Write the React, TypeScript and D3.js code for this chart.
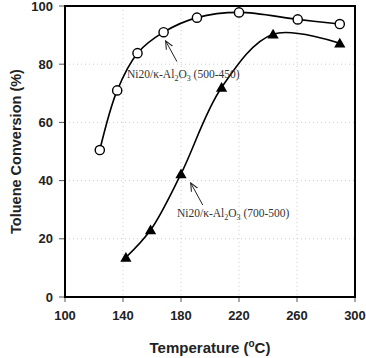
import React from 'react'
import * as d3 from 'd3'

const WIDTH = 366
const HEIGHT = 358
const margin = { top: 6, right: 11, bottom: 61, left: 65 }

// data
const tempCircle = [124, 136, 150, 168, 191, 220, 260.5, 289.5]
const convCircle = [50.5, 71, 83.8, 91, 96, 97.8, 95.4, 93.8]
const tempTriangle = [142, 159, 180, 208, 243.5, 289.5]
const convTriangle = [13.6, 23, 42.3, 72, 90.3, 87.2]

const xTicks = [100, 140, 180, 220, 260, 300]
const yTicks = [0, 20, 40, 60, 80, 100]

const App = () => {
    const chartWidth = WIDTH - margin.left - margin.right
    const chartHeight = HEIGHT - margin.top - margin.bottom

    const xScale = d3.scaleLinear().domain([100, 300]).range([0, chartWidth])
    const yScale = d3.scaleLinear().domain([0, 100]).range([chartHeight, 0])

    const line = d3
        .line<[number, number]>()
        .x(d => xScale(d[0]))
        .y(d => yScale(d[1]))
        .curve(d3.curveCatmullRom.alpha(0.5))

    const circlePts: [number, number][] = tempCircle.map((t, i) => [t, convCircle[i]])
    const triPts: [number, number][] = tempTriangle.map((t, i) => [t, convTriangle[i]])
    const tri = d3.symbol().type(d3.symbolTriangle).size(55)()

    const labelFont = '"Liberation Serif", "Times New Roman", serif'
    const axisFont = '"Liberation Sans", Arial, sans-serif'

    const label = (x: number, y: number, tail: string) => (
        <text x={xScale(x)} y={yScale(y)} fontFamily={labelFont} fontSize={11.5} fill="#333">
            Ni20/κ-Al<tspan fontSize={8} dy={3}>2</tspan>
            <tspan dy={-3}>O</tspan>
            <tspan fontSize={8} dy={3}>3</tspan>
            <tspan dy={-3}> {tail}</tspan>
        </text>
    )

    const arrow = (x1: number, y1: number, x2: number, y2: number) => (
        <line
            x1={xScale(x1)} y1={yScale(y1)} x2={xScale(x2)} y2={yScale(y2)}
            stroke="#222" strokeWidth={1} markerEnd="url(#arrowhead)"
        />
    )

    return (
        <svg width={WIDTH} height={HEIGHT} style={{ position: 'absolute', left: 0, top: 0, background: '#fff' }}>
            <defs>
                <marker id="arrowhead" viewBox="0 0 10 10" refX={9} refY={5} markerWidth={9} markerHeight={9}
                    orient="auto" markerUnits="userSpaceOnUse">
                    <path d="M0,1 L9,5 L0,9" fill="none" stroke="#222" strokeWidth={1.2} />
                </marker>
            </defs>
            <g transform={`translate(${margin.left},${margin.top})`}>
                {/* grid */}
                {xTicks.slice(1, -1).map(t => (
                    <line key={'gx' + t} x1={xScale(t)} x2={xScale(t)} y1={0} y2={chartHeight}
                        stroke="#ccc" strokeDasharray="1,3" />
                ))}
                {yTicks.slice(1, -1).map(t => (
                    <line key={'gy' + t} x1={0} x2={chartWidth} y1={yScale(t)} y2={yScale(t)}
                        stroke="#ccc" strokeDasharray="1,3" />
                ))}

                {/* x axis ticks */}
                {xTicks.map(t => (
                    <g key={'x' + t}>
                        <line x1={xScale(t)} x2={xScale(t)} y1={chartHeight} y2={chartHeight + 5} stroke="#555" />
                        <text x={xScale(t)} y={chartHeight + 23} textAnchor="middle" fontFamily={axisFont}
                            fontWeight="bold" fontSize={13} fill="#222">{t}</text>
                    </g>
                ))}
                {/* y axis ticks */}
                {yTicks.map(t => (
                    <g key={'y' + t}>
                        <line x1={-6} x2={0} y1={yScale(t)} y2={yScale(t)} stroke="#555" />
                        <text x={-12} y={yScale(t)} dy="0.35em" textAnchor="end" fontFamily={axisFont}
                            fontWeight="bold" fontSize={13} fill="#222">{t}</text>
                    </g>
                ))}

                {/* frame */}
                <rect x={0} y={0} width={chartWidth} height={chartHeight} fill="none" stroke="#000" strokeWidth={2} />

                {/* series */}
                <path d={line(circlePts) || ''} fill="none" stroke="#000" strokeWidth={1.6} />
                <path d={line(triPts) || ''} fill="none" stroke="#000" strokeWidth={1.6} />
                {circlePts.map((d, i) => (
                    <circle key={'c' + i} cx={xScale(d[0])} cy={yScale(d[1])} r={4.6}
                        fill="#fff" stroke="#000" strokeWidth={1.4} />
                ))}
                {triPts.map((d, i) => (
                    <path key={'t' + i} d={tri || ''} transform={`translate(${xScale(d[0])},${yScale(d[1]) + 1})`} fill="#000" />
                ))}

                {/* annotations */}
                {arrow(177.2, 80.9, 169.4, 88)}
                {label(142.8, 75.3, '(500-450)')}
                {arrow(195, 31.6, 186.7, 39.2)}
                {label(177.2, 27.5, '(700-500)')}
            </g>

            {/* axis titles */}
            <text transform={`translate(21,${margin.top + chartHeight / 2}) rotate(-90)`} textAnchor="middle"
                fontFamily={axisFont} fontWeight="bold" fontSize={14.5} fill="#222">
                Toluene Conversion (%)
            </text>
            <text x={margin.left + chartWidth / 2} y={353} textAnchor="middle"
                fontFamily={axisFont} fontWeight="bold" fontSize={15} fill="#222">
                Temperature (<tspan fontSize={10} dy={-6}>o</tspan><tspan dy={6}>C)</tspan>
            </text>
        </svg>
    )
}

export default App
